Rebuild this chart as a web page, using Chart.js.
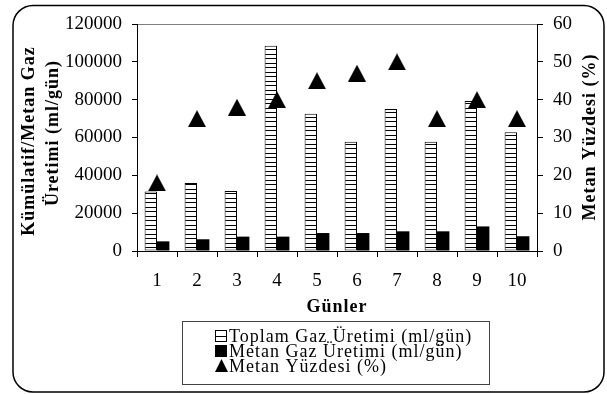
<!DOCTYPE html>
<html>
<head>
<meta charset="utf-8">
<script src="https://cdn.jsdelivr.net/npm/chart.js@4.4.0/dist/chart.umd.min.js"></script>
<style>
  html, body { margin: 0; padding: 0; background: #fff; }
  #wrap { width: 607px; height: 394px; position: relative; }
</style>
</head>
<body>
<div id="wrap"><canvas id="chart" width="607" height="394"></canvas></div>
<script>
const days = ['1', '2', '3', '4', '5', '6', '7', '8', '9', '10'];
const toplamGaz = [31500, 36000, 31700, 108500, 72500, 57800, 75100, 57800, 79300, 62800];
const metanGaz = [5100, 6200, 7600, 7600, 9500, 9500, 10400, 10400, 13000, 7800];
const metanYuzde = [18, 35, 38, 40, 45, 47, 50, 35, 40, 35];

const seriesNames = ['Toplam Gaz Üretimi (ml/gün)', 'Metan Gaz Üretimi (ml/gün)', 'Metan Yüzdesi (%)'];
const leftTitle = ['Kümülatif/Metan Gaz', 'Üretimi (ml/gün)'];
const rightTitle = 'Metan Yüzdesi (%)';
const xTitle = 'Günler';

const SERIF = '"Liberation Serif", "Times New Roman", serif';

// horizontal stripe fill for the total gas bars
function makeStripes() {
    const c = document.createElement('canvas');
    c.width = 4;
    c.height = 9;
    const g = c.getContext('2d');
    g.fillStyle = '#fff';
    g.fillRect(0, 0, 4, 9);
    g.fillStyle = '#000';
    g.fillRect(0, 0, 4, 1);
    g.fillRect(0, 4, 4, 1);
    return g.createPattern(c, 'repeat');
}

// triangle marker centred on its point, like the Excel one
function makeTriangle(w, h) {
    const c = document.createElement('canvas');
    c.width = w;
    c.height = h;
    const g = c.getContext('2d');
    g.fillStyle = '#000';
    g.beginPath();
    g.moveTo(w / 2, 0);
    g.lineTo(w, h);
    g.lineTo(0, h);
    g.closePath();
    g.fill();
    return c;
}

const stripes = makeStripes();
const triangle = makeTriangle(18, 17);

const decorations = {
    id: 'decorations',
    beforeDraw(chart) {
        const ctx = chart.ctx;
        ctx.save();
        ctx.fillStyle = '#fff';
        ctx.fillRect(0, 0, chart.width, chart.height);
        ctx.restore();
    },
    afterDraw(chart) {
        const ctx = chart.ctx;
        const area = chart.chartArea;
        ctx.save();

        // outer rounded frame
        ctx.strokeStyle = '#000';
        ctx.lineWidth = 1.5;
        ctx.beginPath();
        ctx.roundRect(13, 5.5, 591, 386.5, 20);
        ctx.stroke();

        ctx.fillStyle = '#000';
        ctx.letterSpacing = '1px';
        ctx.textAlign = 'center';
        ctx.textBaseline = 'middle';
        ctx.font = 'bold 18px ' + SERIF;

        // left axis title (two lines)
        ctx.save();
        ctx.translate(29, 141);
        ctx.rotate(-Math.PI / 2);
        ctx.fillText(leftTitle[0], 0, 0);
        ctx.restore();
        ctx.save();
        ctx.translate(53, 133);
        ctx.rotate(-Math.PI / 2);
        ctx.fillText(leftTitle[1], 0, 0);
        ctx.restore();

        // right axis title
        ctx.save();
        ctx.translate(590, 137);
        ctx.rotate(-Math.PI / 2);
        ctx.fillText(rightTitle, 0, 0);
        ctx.restore();

        // x axis title
        ctx.fillText(xTitle, (area.left + area.right) / 2, 307);

        // legend box
        ctx.strokeStyle = '#444';
        ctx.lineWidth = 1;
        ctx.strokeRect(182.5, 321.5, 307, 63);

        const rows = [336, 351, 366];
        const sx = 215;
        // striped swatch
        ctx.fillStyle = '#fff';
        ctx.fillRect(sx, rows[0] - 6, 12, 12);
        ctx.strokeStyle = '#000';
        ctx.strokeRect(sx + 0.5, rows[0] - 5.5, 11, 11);
        ctx.beginPath();
        ctx.moveTo(sx, rows[0] + 0.5);
        ctx.lineTo(sx + 12, rows[0] + 0.5);
        ctx.stroke();
        // solid swatch
        ctx.fillStyle = '#000';
        ctx.fillRect(sx, rows[1] - 6, 12, 12);
        // triangle swatch
        ctx.beginPath();
        ctx.moveTo(sx + 6.5, rows[2] - 7);
        ctx.lineTo(sx + 13, rows[2] + 6);
        ctx.lineTo(sx, rows[2] + 6);
        ctx.closePath();
        ctx.fill();

        ctx.font = '18px ' + SERIF;
        ctx.textAlign = 'left';
        seriesNames.forEach((name, i) => {
            ctx.fillText(name, 229, rows[i] + 1);
        });

        ctx.restore();
    }
};

const tickFont = { family: SERIF, size: 19 };
const plain = (v) => String(v);

new Chart(document.getElementById('chart'), {
    type: 'bar',
    data: {
        labels: days,
        datasets: [
            {
                type: 'line',
                label: seriesNames[2],
                data: metanYuzde,
                yAxisID: 'y1',
                showLine: false,
                pointStyle: triangle,
                pointRadius: 9,
                pointHoverRadius: 9
            },
            {
                label: seriesNames[0],
                data: toplamGaz,
                yAxisID: 'y',
                backgroundColor: stripes,
                borderColor: '#000',
                borderWidth: 1,
                borderSkipped: false,
                categoryPercentage: 0.62,
                barPercentage: 1.0
            },
            {
                label: seriesNames[1],
                data: metanGaz,
                yAxisID: 'y',
                backgroundColor: '#000',
                borderColor: '#000',
                borderWidth: 0,
                categoryPercentage: 0.62,
                barPercentage: 1.0
            }
        ]
    },
    options: {
        responsive: false,
        animation: false,
        layout: { padding: { left: 0, right: 0, top: 24, bottom: 84 } },
        plugins: {
            legend: { display: false },
            tooltip: { enabled: false }
        },
        scales: {
            x: {
                grid: { color: 'transparent', tickColor: '#000', tickLength: 6, offset: true },
                border: { color: '#000', width: 1 },
                ticks: { color: '#000', font: tickFont, padding: 13, maxRotation: 0 },
                afterFit: (s) => { s.height = 59; }
            },
            y: {
                position: 'left',
                min: 0,
                max: 120000,
                ticks: { stepSize: 20000, color: '#000', font: tickFont, padding: 10, callback: plain },
                grid: {
                    color: (c) => (c.tick && c.tick.value === 120000 ? '#808080' : 'transparent'),
                    tickColor: '#000',
                    tickLength: 5
                },
                border: { color: '#000', width: 1 },
                afterFit: (s) => { s.width = 137; }
            },
            y1: {
                position: 'right',
                min: 0,
                max: 60,
                ticks: { stepSize: 10, color: '#000', font: tickFont, padding: 10, callback: plain },
                grid: { drawOnChartArea: false, tickColor: '#000', tickLength: 6 },
                border: { color: '#000', width: 1 },
                afterFit: (s) => { s.width = 70; }
            }
        }
    },
    plugins: [decorations]
});
</script>
</body>
</html>
